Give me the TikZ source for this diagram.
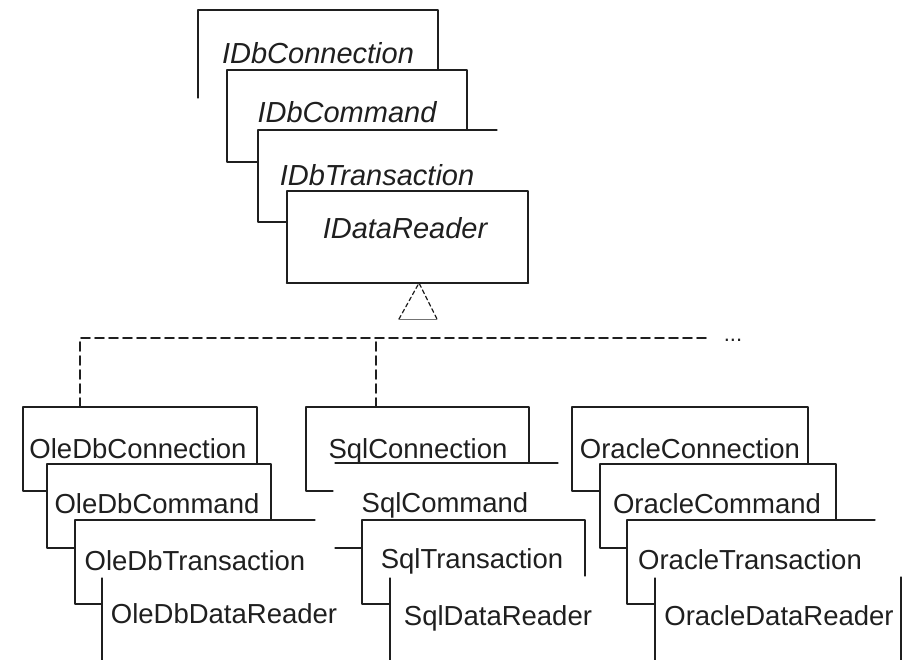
\documentclass[tikz,border=0pt]{standalone}
\usepackage{fontspec}
\setmainfont{Liberation Sans}
\usepackage{tikz}
\usetikzlibrary{calc}
\definecolor{sqsqsq}{rgb}{0.12,0.12,0.12}
\definecolor{wvwvwv}{rgb}{0.45,0.45,0.45}
\tikzstyle{every node}=[font=\fontsize{27.5}{30}\selectfont,anchor=base,inner sep=0pt,color=sqsqsq]
\tikzstyle{iface}=[font=\fontsize{29}{32}\selectfont\itshape]
\tikzstyle{edge}=[line width=1.3pt,color=sqsqsq]
\tikzstyle{bus}=[line width=1.6pt,color=sqsqsq,dash pattern=on 9pt off 5pt]
\begin{document}
\begin{tikzpicture}[line cap=round,line join=round,x=1pt,y=-1pt]
\useasboundingbox (0,0) rectangle (902,659);
\clip (0,0) rectangle (902,659);
% interfaces
\draw [edge] (198,98) -- (198,10) -- (438,10) -- (438,70);
\node [iface] (iconn) at (318,63) {IDbConnection};
\draw [edge] (258,162) -- (227,162) -- (227,70) -- (467,70) -- (467,130);
\node [iface] (icmd) at (347,122) {IDbCommand};
\draw [edge] (287,222) -- (258,222) -- (258,130) -- (497,130);
\node [iface] (itrans) at (377,185) {IDbTransaction};
\draw [edge] (287,191) rectangle (528,283);
\draw [line width=2.6pt,color=sqsqsq] (287,283) -- (528,283);
\node [iface] (ireader) at (405,238) {IDataReader};
% realization
\coordinate (tip) at (419,283);
\draw [line width=1.2pt,color=sqsqsq,dash pattern=on 4pt off 3pt] (399,319) -- (tip) -- (437,319);
\draw [line width=0.8pt,color=wvwvwv] (399,319) -- (437,319);
\coordinate (oletop) at (80,407);
\coordinate (sqltop) at (376,407);
\node [font=\fontsize{22}{24}\selectfont] (more) at (733,341) {...};
\draw [bus] (oletop) |- (710,338);
\draw [bus] (sqltop) -- (376,338);
% oledb
\draw [edge] (47,491) -- (23,491) -- (23,407) -- (257,407) -- (257,463);
\node (oleconn) at (138,458) {OleDbConnection};
\draw [edge] (75,548) -- (47,548) -- (47,464) -- (271,464) -- (271,520);
\node (olecmd) at (157,513) {OleDbCommand};
\draw [edge] (102,604) -- (75,604) -- (75,520) -- (315,520);
\node (oletrans) at (195,570) {OleDbTransaction};
\draw [edge] (102,578) -- (102,665);
\node (olereader) at (224,623) {OleDbDataReader};
% sql
\draw [edge] (333,491) -- (306,491) -- (306,407) -- (529,407) -- (529,463);
\node (sqlconn) at (418,458) {SqlConnection};
\draw [edge] (335,463) -- (558,463);
\draw [edge] (335,548) -- (362,548);
\node (sqlcmd) at (445,512) {SqlCommand};
\draw [edge] (390,604) -- (362,604) -- (362,520) -- (585,520) -- (585,576);
\node (sqltrans) at (472,568) {SqlTransaction};
\draw [edge] (390,578) -- (390,665);
\node (sqlreader) at (498,625) {SqlDataReader};
% oracle
\draw [edge] (600,491) -- (572,491) -- (572,407) -- (808,407) -- (808,463);
\node (oraconn) at (690,458) {OracleConnection};
\draw [edge] (627,548) -- (600,548) -- (600,464) -- (836,464) -- (836,520);
\node (oracmd) at (717,513) {OracleCommand};
\draw [edge] (655,604) -- (627,604) -- (627,520) -- (875,520);
\node (oratrans) at (750,569) {OracleTransaction};
\draw [edge] (655,578) -- (655,665);
\draw [edge] (901,577) -- (901,665);
\node (orareader) at (779,625) {OracleDataReader};
\end{tikzpicture}
\end{document}
